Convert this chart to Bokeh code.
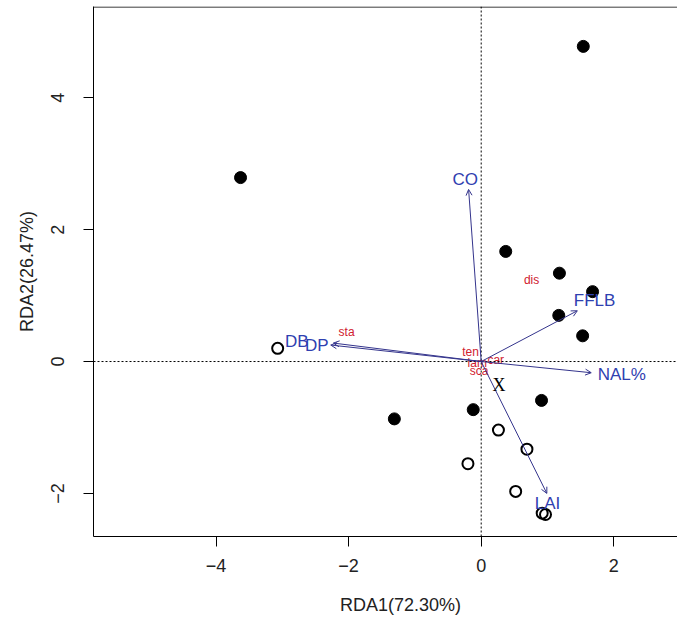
import numpy as np
from bokeh.plotting import figure
from bokeh.models import (ColumnDataSource, Span, Arrow, OpenHead, Label, FixedTicker, Range1d)
from bokeh.core.properties import value
from bokeh.embed import file_html
from bokeh.resources import INLINE

# ---- data ----
filled_x = [1.54, -3.63, 0.37, 1.18, 1.68, 1.17, 1.53, -1.31, -0.12, 0.91]
filled_y = [4.78, 2.79, 1.67, 1.34, 1.06, 0.70, 0.39, -0.87, -0.73, -0.59]

open_x = [-3.07, 0.26, 0.69, -0.20, 0.52, 0.92, 0.97]
open_y = [0.20, -1.04, -1.33, -1.55, -1.97, -2.30, -2.32]

env_names = ["CO", "FFLB", "NAL%", "LAI", "DP", "DB"]
env_x = [-0.19, 1.45, 1.66, 0.99, -2.23, -2.27]
env_y = [2.61, 0.77, -0.17, -2.00, 0.28, 0.25]
env_lab_x = [-0.24, 1.71, 2.12, 1.00, -2.48, -2.78]
env_lab_y = [2.76, 0.92, -0.20, -2.15, 0.24, 0.30]

sp_names = ["sta", "dis", "ten", "lam", "sca", "car"]
sp_x = [-2.03, 0.76, -0.16, -0.06, -0.03, 0.22]
sp_y = [0.45, 1.23, 0.15, -0.02, -0.14, 0.03]

x_ticks = [-4, -2, 0, 2]
y_ticks = [-2, 0, 2, 4]

x_title = "RDA1(72.30%)"
y_title = "RDA2(26.47%)"

BLUE = "#2F40B0"
ARROW = "#34348C"
RED = "#D0202E"
FONT = "Liberation Sans"

x0, x1 = -5.848, 2.961
y0, y1 = -2.654, 5.385

p = figure(width=677, height=621, output_backend="svg", toolbar_location=None,
           x_range=Range1d(x0, x1), y_range=Range1d(y0, y1),
           min_border_left=93, min_border_right=0, min_border_top=6, min_border_bottom=85)
p.outline_line_color = None
p.grid.visible = False
p.background_fill_color = "white"

for ax in (p.xaxis[0], p.yaxis[0]):
    ax.axis_line_color = "black"
    ax.axis_line_width = 1
    ax.major_tick_line_color = "black"
    ax.major_tick_out = 10
    ax.major_tick_in = 0
    ax.minor_tick_line_color = None
    ax.major_label_text_font = FONT
    ax.major_label_text_font_size = "18px"
    ax.major_label_text_color = "#222222"
    ax.axis_label_text_font = FONT
    ax.axis_label_text_font_size = "18px"
    ax.axis_label_text_font_style = "normal"
    ax.axis_label_text_color = "#222222"
p.xaxis[0].ticker = FixedTicker(ticks=x_ticks)
p.yaxis[0].ticker = FixedTicker(ticks=y_ticks)
p.xaxis[0].major_label_standoff = 12
p.yaxis[0].major_label_standoff = 19
p.yaxis[0].major_label_orientation = "vertical"
p.xaxis[0].axis_label = "\u00a0" * 6 + x_title
p.yaxis[0].axis_label = y_title
p.xaxis[0].axis_label_standoff = 20
p.yaxis[0].axis_label_standoff = 12

# top border
p.add_layout(Span(location=y1 - 0.008, dimension="width", line_color="black", line_width=1))

# dotted reference lines
p.add_layout(Span(location=0, dimension="width", line_color="black", line_width=1, line_dash="2 2"))
p.add_layout(Span(location=0, dimension="height", line_color="black", line_width=1, line_dash="2 2"))

# site points
p.scatter(filled_x, filled_y, size=12, fill_color="black", line_color="black")
p.scatter(open_x, open_y, size=11, fill_color=None, line_color="black", line_width=2)

# environmental arrows
asrc = ColumnDataSource(dict(x0=[0] * len(env_x), y0=[0] * len(env_y), x1=env_x, y1=env_y))
p.add_layout(Arrow(x_start="x0", y_start="y0", x_end="x1", y_end="y1", source=asrc,
                   line_color=ARROW, line_width=1,
                   end=OpenHead(size=6, line_color=ARROW, line_width=1)))

lsrc = ColumnDataSource(dict(x=env_lab_x, y=env_lab_y, t=env_names))
p.text(x="x", y="y", text="t", source=lsrc, text_color=BLUE, text_font=value(FONT),
       text_font_size="17px", text_align="center", text_baseline="middle")

ssrc = ColumnDataSource(dict(x=sp_x, y=sp_y, t=sp_names))
p.text(x="x", y="y", text="t", source=ssrc, text_color=RED, text_font=value(FONT),
       text_font_size="12px", text_align="center", text_baseline="middle")

p.add_layout(Label(x=0.27, y=-0.35, text="X", text_font="Liberation Serif", text_font_size="18px",
                   text_color="black", text_align="center", text_baseline="middle"))

open("out.html", "w").write(file_html(p, INLINE))
